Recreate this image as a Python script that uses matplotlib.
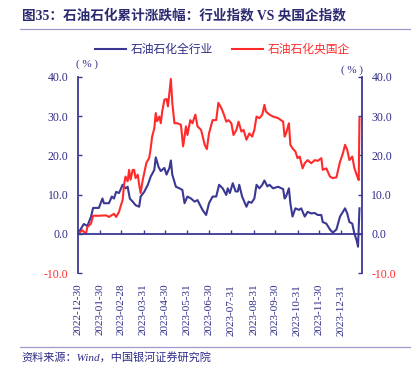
import numpy as np
import pandas as pd
import matplotlib
matplotlib.use('Agg')
from matplotlib import pyplot as plt
from matplotlib.lines import Line2D
from matplotlib.ticker import FormatStrFormatter

plt.rcParams['font.family'] = ['Liberation Serif', 'Noto Sans CJK SC']
plt.rcParams['axes.unicode_minus'] = True

NAVY = '#3b3894'
TXT = '#2e2c86'
RED = '#ff2b2b'
RULE = '#9d98cf'

start = pd.Timestamp('2022-12-30')

# days after 2022-12-30, cumulative change in %
ind_days = [0, 8, 13, 18, 21, 29, 34, 36, 43, 47, 50, 53, 57, 62, 66, 69, 72, 76, 80, 85,
            87, 92, 97, 101, 106, 108, 112, 115, 120, 123, 127, 129, 131, 136, 141, 145, 148,
            152, 157, 162, 166, 173, 178, 182, 187, 192, 196, 201, 206, 208, 211, 215, 219,
            222, 224, 228, 234, 237, 241, 245, 248, 252, 256, 259, 263, 266, 271, 278, 285,
            287, 289, 293, 295, 298, 302, 307, 310, 315, 319, 324, 329, 333, 338, 340, 345,
            350, 354, 359, 364, 368, 371, 374, 377, 381, 384, 387, 389, 391]
ind_vals = [0.0, 2.5, 2.0, 4.3, 6.6, 6.6, 9.0, 7.8, 7.8, 9.5, 9.0, 10.7, 10.4, 12.5, 11.6, 12.0,
            9.0, 8.2, 7.3, 6.9, 9.5, 10.7, 12.5, 14.6, 16.3, 19.5, 17.0, 16.0, 16.8, 15.1, 16.8,
            18.7, 15.1, 12.0, 11.6, 11.2, 7.8, 9.5, 9.0, 8.2, 8.6, 6.1, 4.8, 7.8, 9.5, 9.5, 12.5,
            11.6, 9.9, 11.6, 10.4, 12.9, 10.8, 10.8, 12.5, 9.5, 6.9, 8.2, 7.9, 9.0, 12.5, 11.6,
            12.5, 13.6, 12.1, 12.5, 11.6, 12.0, 11.4, 9.0, 9.5, 11.6, 7.8, 4.4, 6.5, 6.1, 6.5,
            4.4, 5.6, 5.2, 5.3, 4.8, 4.8, 3.0, 2.6, 1.1, 0.3, 1.1, 4.4, 5.6, 6.5, 5.2, 3.0, 2.6,
            0.0, -1.6, -3.3, 6.5]

soe_days = [0, 6, 11, 13, 18, 21, 29, 39, 43, 50, 53, 57, 59, 62, 64, 66, 69, 71, 73, 76, 78,
            80, 83, 85, 87, 90, 92, 95, 99, 101, 103, 106, 108, 110, 113, 115, 117, 120, 123,
            125, 129, 131, 134, 138, 143, 146, 150, 152, 156, 159, 163, 166, 171, 176, 179, 182,
            187, 192, 195, 199, 202, 206, 209, 213, 216, 220, 223, 227, 230, 234, 238, 242, 245,
            248, 252, 256, 259, 261, 266, 271, 278, 285, 287, 289, 293, 295, 298, 302, 305, 308,
            312, 315, 319, 324, 329, 333, 338, 340, 345, 350, 354, 359, 364, 368, 371, 374, 377,
            381, 384, 388, 390, 391]
soe_vals = [0.0, 0.9, 0.0, 1.7, 2.6, 4.6, 4.6, 4.7, 4.3, 5.1, 4.3, 5.6, 6.9, 8.6, 12.5, 14.6,
            13.4, 16.3, 13.8, 16.3, 16.3, 14.2, 15.1, 12.5, 10.4, 13.8, 15.5, 18.1, 19.4, 21.8,
            24.8, 26.9, 30.8, 28.7, 29.9, 28.2, 31.2, 34.2, 34.4, 32.5, 39.5, 33.4, 28.2, 28.2,
            27.8, 22.3, 27.4, 25.2, 29.0, 28.2, 30.4, 27.4, 26.5, 22.7, 21.6, 25.6, 29.0, 29.0,
            33.4, 32.1, 30.8, 28.6, 29.0, 28.2, 25.2, 26.5, 28.6, 26.1, 26.5, 24.0, 25.6, 24.8,
            26.5, 29.9, 29.5, 30.4, 32.9, 31.2, 30.4, 29.9, 29.5, 28.6, 24.8, 25.6, 28.2, 22.7,
            21.8, 21.0, 19.3, 19.7, 16.7, 18.0, 18.8, 18.0, 18.8, 18.6, 19.3, 16.3, 16.7, 14.6,
            14.2, 14.4, 18.4, 20.5, 22.7, 21.4, 18.8, 19.7, 16.7, 14.6, 13.7, 29.5]

tick_dates = ['2022-12-30', '2023-01-30', '2023-02-28', '2023-03-31', '2023-04-30',
              '2023-05-31', '2023-06-30', '2023-07-31', '2023-08-31', '2023-09-30',
              '2023-10-31', '2023-11-30', '2023-12-31']
y_ticks = [-10, 0, 10, 20, 30, 40]

ind_x = start + pd.to_timedelta(ind_days, unit='D')
soe_x = start + pd.to_timedelta(soe_days, unit='D')

fig = plt.figure(figsize=(4.2, 3.75), dpi=100)
ax = fig.add_axes([0.1857, 0.272, 0.861 - 0.1857, 0.7947 - 0.272])

l1, = ax.plot(ind_x, ind_vals, color=NAVY, lw=1.5, label='石油石化全行业')
l2, = ax.plot(soe_x, soe_vals, color=RED, lw=1.5, label='石油石化央国企')

ax.set_xlim(start, start + pd.Timedelta(days=394))
ax.set_ylim(-10, 40)

ax.spines['top'].set_visible(False)
for s in ['left', 'right', 'bottom']:
    ax.spines[s].set_color(NAVY)
    ax.spines[s].set_linewidth(1.3)
ax.spines['bottom'].set_position(('data', 0))

ax.set_xticks(pd.to_datetime(tick_dates))
ax.set_xticklabels(tick_dates, rotation=90, fontsize=8, color=TXT)
ax.tick_params(axis='x', direction='in', length=3, width=1, color=NAVY, pad=36)

ax.set_yticks(y_ticks)
ax.yaxis.set_major_formatter(FormatStrFormatter('%.1f'))
ax.yaxis.set_ticks_position('both')
ax.tick_params(axis='y', direction='in', length=3, width=1, color=NAVY,
               labelleft=True, labelright=True, labelsize=8.5, pad=7)
for v, t in zip(y_ticks, ax.yaxis.get_major_ticks()):
    c = RED if v < 0 else TXT
    t.label1.set_color(c)
    t.label2.set_color(c)

ax.text(0.03, 1.065, '( % )', transform=ax.transAxes, fontsize=8, color=TXT,
        ha='center', va='center')
ax.text(0.965, 1.035, '( % )', transform=ax.transAxes, fontsize=8, color=TXT,
        ha='center', va='center')

leg = fig.legend(handles=[l1, l2], loc='center', bbox_to_anchor=(0.53, 0.867), ncol=2,
                 frameon=False, fontsize=8.5, handlelength=2.6, columnspacing=1.6,
                 handletextpad=0.4)
for txt, c in zip(leg.get_texts(), [TXT, RED]):
    txt.set_color(c)

fig.text(0.052, 0.958, '图35：石油石化累计涨跌幅：行业指数 VS 央国企指数', fontsize=9.8,
         fontweight='bold', color='#2b2a70', ha='left', va='center')
fig.add_artist(Line2D([0.048, 0.976], [0.923, 0.923], color=RULE, lw=0.9))
fig.add_artist(Line2D([0.048, 0.976], [0.075, 0.075], color=RULE, lw=0.9))
fig.text(0.052, 0.047, '资料来源：Wind，中国银河证券研究院', fontsize=8, style='italic',
         color=TXT, ha='left', va='center')

fig.savefig('out.png', dpi=100)
